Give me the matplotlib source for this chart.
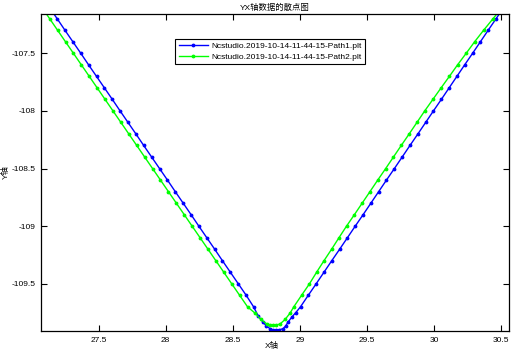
"""
Scatter/line comparison of two Ncstudio tool paths (Y vs X).
"""

import matplotlib
matplotlib.use("Agg")
import matplotlib.pyplot as plt

plt.rcParams["font.family"] = ["Liberation Sans", "Noto Sans CJK SC", "DejaVu Sans"]

path1_x = [27.132, 27.191, 27.249, 27.308, 27.367, 27.425, 27.484, 27.543, 27.602,
           27.660, 27.719, 27.778, 27.836, 27.895, 27.954, 28.013, 28.071, 28.130,
           28.189, 28.247, 28.306, 28.365, 28.423, 28.482, 28.541, 28.600, 28.655,
           28.690, 28.725, 28.750, 28.778, 28.800, 28.822, 28.845, 28.875, 28.895,
           28.912, 28.940, 28.970, 29.005, 29.063, 29.122, 29.180, 29.238, 29.297,
           29.355, 29.413, 29.472, 29.530, 29.588, 29.646, 29.705, 29.763, 29.821,
           29.880, 29.938, 29.996, 30.055, 30.113, 30.171, 30.229, 30.288, 30.346,
           30.404, 30.463, 30.521]
path1_y = [-107.1, -107.2, -107.3, -107.4, -107.5, -107.6, -107.7, -107.8, -107.9,
           -108.0, -108.1, -108.2, -108.3, -108.4, -108.5, -108.6, -108.7, -108.8,
           -108.9, -109.0, -109.1, -109.2, -109.3, -109.4, -109.5, -109.6, -109.7,
           -109.78, -109.833, -109.865, -109.89, -109.90, -109.903, -109.90, -109.89,
           -109.865, -109.833, -109.79, -109.75, -109.7, -109.6, -109.5, -109.4,
           -109.3, -109.2, -109.1, -109.0, -108.9, -108.8, -108.7, -108.6, -108.5,
           -108.4, -108.3, -108.2, -108.1, -108.0, -107.9, -107.8, -107.7, -107.6,
           -107.5, -107.4, -107.3, -107.2, -107.1]

# Path 2 (green)
path2_x = [27.076, 27.135, 27.194, 27.253, 27.312, 27.371, 27.430, 27.489, 27.548,
           27.607, 27.666, 27.725, 27.784, 27.843, 27.902, 27.961, 28.020, 28.079,
           28.138, 28.197, 28.256, 28.315, 28.374, 28.433, 28.492, 28.551, 28.610,
           28.666, 28.710, 28.755, 28.780, 28.800, 28.825, 28.852, 28.890, 28.927,
           28.955, 29.013, 29.072, 29.125, 29.180, 29.237, 29.292, 29.348, 29.407,
           29.465, 29.523, 29.581, 29.640, 29.698, 29.756, 29.815, 29.873, 29.931,
           29.992, 30.053, 30.115, 30.176, 30.240, 30.303, 30.370, 30.440, 30.510]
path2_y = [-107.1, -107.2, -107.3, -107.4, -107.5, -107.6, -107.7, -107.8, -107.9,
           -108.0, -108.1, -108.2, -108.3, -108.4, -108.5, -108.6, -108.7, -108.8,
           -108.9, -109.0, -109.1, -109.2, -109.3, -109.4, -109.5, -109.6, -109.7,
           -109.755, -109.81, -109.85, -109.857, -109.86, -109.857, -109.85, -109.81,
           -109.755, -109.7, -109.6, -109.5, -109.4, -109.3, -109.2, -109.1, -109.0,
           -108.9, -108.8, -108.7, -108.6, -108.5, -108.4, -108.3, -108.2, -108.1,
           -108.0, -107.9, -107.8, -107.7, -107.6, -107.5, -107.4, -107.3, -107.2,
           -107.1]

labels = ["Ncstudio.2019-10-14-11-44-15-Path1.plt",
          "Ncstudio.2019-10-14-11-44-15-Path2.plt"]
x_ticks = [27.5, 28, 28.5, 29, 29.5, 30, 30.5]
y_ticks = [-107.5, -108, -108.5, -109, -109.5]

fig = plt.figure(figsize=(5.11, 3.51), dpi=100)
ax = fig.add_axes([0.0802, 0.057, 0.916, 0.903])

ax.plot(path1_x, path1_y, color=(0, 0, 1), marker=".", markersize=3.5, lw=1,
        label=labels[0])
ax.plot(path2_x, path2_y, color=(0, 1, 0), marker=".", markersize=3.5, lw=1,
        label=labels[1])

ax.set_xlim(27.07, 30.56)
ax.set_ylim(-109.91, -107.159)
ax.set_xticks(x_ticks)
ax.set_xticklabels([f"{t:g}" for t in x_ticks])
ax.set_yticks(y_ticks)
ax.set_yticklabels([f"{t:g}" for t in y_ticks])
ax.tick_params(direction="in", length=4, width=0.8, labelsize=6,
               top=True, right=True, pad=4)
for s in ax.spines.values():
    s.set_linewidth(0.9)

ax.set_title("YX轴数据的散点图", fontsize=6, pad=3)
# axis labels placed by hand so they stay inside the small canvas
fig.text(272 / 511, 1 - 346 / 351, "X轴", fontsize=6, ha="center", va="center")
fig.text(6 / 511, 1 - 172 / 351, "Y轴", fontsize=6, ha="center", va="center",
         rotation=90)

leg = ax.legend(loc="upper center", bbox_to_anchor=(270 / 511, 1 - 35 / 351),
                bbox_transform=fig.transFigure, fontsize=6, fancybox=False,
                framealpha=1, edgecolor="black", handlelength=3.5,
                borderpad=0.4, labelspacing=0.3, handletextpad=0.4)
leg.get_frame().set_linewidth(0.8)

fig.savefig("out.png", dpi=100)
